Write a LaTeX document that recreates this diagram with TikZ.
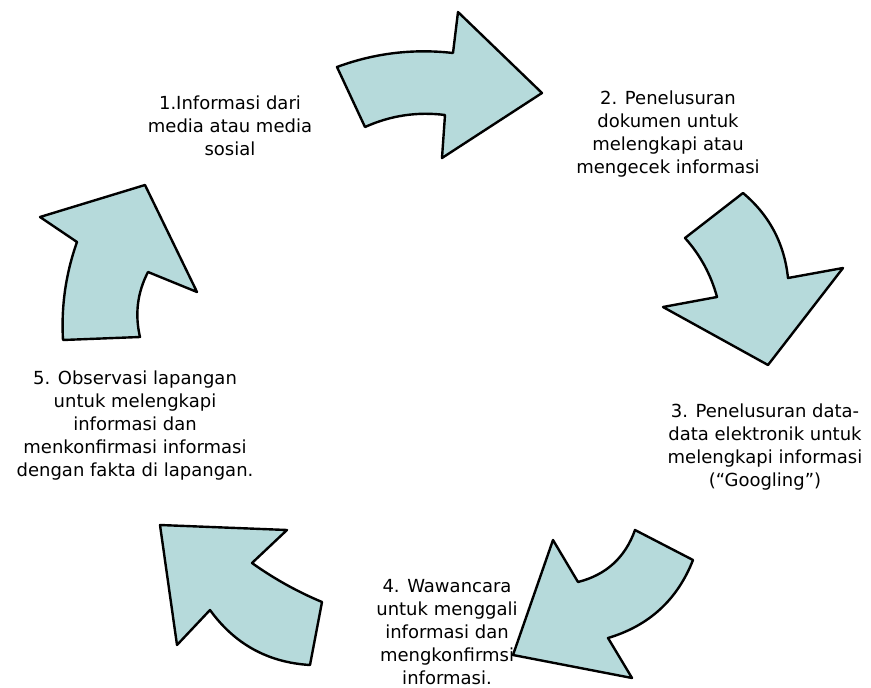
\documentclass[tikz,border=0pt]{standalone}
\usepackage{fontspec}
\setmainfont{DejaVu Sans}
\definecolor{arrowfill}{RGB}{182,218,219}
\begin{document}
\begin{tikzpicture}[x=1pt,y=-1pt,
  bigarrow/.style={draw=black,fill=arrowfill,line width=2.4pt,line join=round},
  label/.style={align=center,font=\fontsize{18}{23}\selectfont,inner sep=0pt}]
\useasboundingbox (0,0) rectangle (871,688);
% arrow 1 (top)
\path[bigarrow] (337,67) .. controls (374.6,53.1) and (413.2,48.5) .. (453,53) -- (458,12) -- (542,93) -- (442,158) -- (445,115) .. controls (417.2,111.5) and (390.6,115.5) .. (365,127) -- cycle;
% arrow 2 (right)
\path[bigarrow] (743,193) .. controls (769.4,215.2) and (784.4,243.6) .. (788,278) -- (843,268) -- (768,365) -- (663,307) -- (717,297) .. controls (711,274.8) and (700.4,255.2) .. (685,238) -- cycle;
% arrow 3 (bottom right)
\path[bigarrow] (635,530) -- (693,560) .. controls (677.4,599.8) and (649,625.8) .. (608,638) -- (632,678) -- (513,655) -- (553,540) -- (578,582) .. controls (606.2,574.9) and (625.2,557.5) .. cycle;
% arrow 4 (bottom left)
\path[bigarrow] (160,525) -- (287,530) -- (252,563) .. controls (273.8,578.6) and (297.2,591.6) .. (322,602) -- (310,665) .. controls (268,662.5) and (234.6,644.1) .. (210,610) -- (177,645) -- cycle;
% arrow 5 (left)
\path[bigarrow] (40,217) -- (145,185) -- (197,292) -- (148,272) .. controls (137.3,292.7) and (134.7,314.3) .. (140,337) -- (63,340) .. controls (61.1,306.4) and (65.7,273.8) .. (77,242) -- cycle;
% labels
\node[label] (t1) at (230,126) {1.Informasi dari\\media atau media\\sosial};
\node[label] (t2) at (668,134) {2. Penelusuran\\dokumen untuk\\melengkapi atau\\mengecek informasi};
\node[label] (t3) at (765,447) {3. Penelusuran data-\\data elektronik untuk\\melengkapi informasi\\(“Googling”)};
\node[label] (t4) at (447,632) {4. Wawancara\\untuk menggali\\informasi dan\\mengkonfirmsi\\informasi.};
\node[label] (t5) at (135,426) {5. Observasi lapangan\\untuk melengkapi\\informasi dan\\menkonfirmasi informasi\\dengan fakta di lapangan.};
\end{tikzpicture}
\end{document}
